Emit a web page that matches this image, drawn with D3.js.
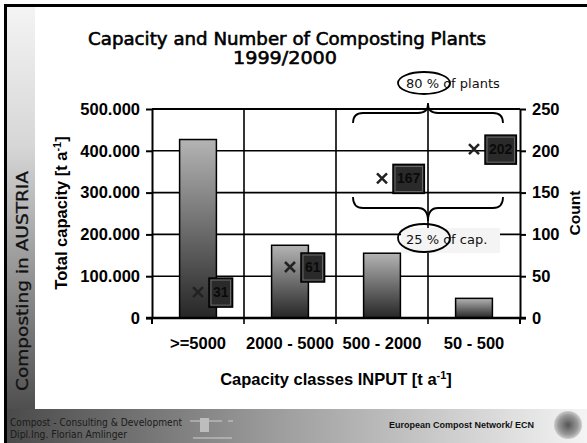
<!DOCTYPE html>
<html lang="en">
<head>
<meta charset="UTF-8">
<title>Composting in Austria</title>
<script src="https://d3js.org/d3.v7.min.js"></script>
<style>
  body { margin: 0; background: #fff; }
  .axis text { font: bold 16.5px "Liberation Sans", Arial, sans-serif; fill: #000; }
  .axis path, .axis line { stroke: #000; stroke-width: 2; }
  .comic { font-family: "DejaVu Sans", sans-serif; }
</style>
</head>
<body>
<div id="chart"></div>
<script>
// data
var categories = [">=5000", "2000 - 5000", "500 - 2000", "50 - 500"];
var capacity = [427000, 174000, 155000, 47000];   // t/a, left axis
var plantCount = [31, 61, 167, 202];              // right axis
var capTicks = [0, 100000, 200000, 300000, 400000, 500000];
var countTicks = [0, 50, 100, 150, 200, 250];

var W = 587, H = 443;
var plot = { left: 152, right: 520, top: 109, bottom: 318 };

var de = d3.formatLocale({ decimal: ",", thousands: ".", grouping: [3], currency: ["", ""] });
var fmt = de.format(",");

var svg = d3.select("#chart").append("svg")
  .attr("width", W).attr("height", H);

var defs = svg.append("defs");
function linGrad(id, x2, y2, stops) {
  var g = defs.append("linearGradient").attr("id", id)
    .attr("x1", 0).attr("y1", 0).attr("x2", x2).attr("y2", y2);
  stops.forEach(function (s) {
    g.append("stop").attr("offset", s[0]).attr("stop-color", s[1]);
  });
}
linGrad("side", 0, 1, [[0, "#f4f4f4"], [0.35, "#d6d6d6"], [1, "#4e4e4e"]]);
linGrad("foot", 1, 0, [[0, "#4a4a4a"], [0.45, "#9a9a9a"], [1, "#f4f4f4"]]);
linGrad("bar", 0, 1, [[0, "#b4b4b4"], [1, "#262626"]]);
var rg = defs.append("radialGradient").attr("id", "logo");
rg.append("stop").attr("offset", 0).attr("stop-color", "#555");
rg.append("stop").attr("offset", 0.7).attr("stop-color", "#999");
rg.append("stop").attr("offset", 1).attr("stop-color", "#ccc");

// slide decoration
svg.append("rect").attr("x", 6).attr("y", 6).attr("width", 29).attr("height", 404).attr("fill", "url(#side)");
svg.append("rect").attr("x", 6).attr("y", 409).attr("width", W - 6).attr("height", H - 409).attr("fill", "url(#foot)");
svg.append("rect").attr("x", 4).attr("y", 4).attr("width", W - 4).attr("height", 3).attr("fill", "#000");
svg.append("rect").attr("x", 4).attr("y", 4).attr("width", 3).attr("height", H - 4).attr("fill", "#000");

svg.append("text").attr("class", "comic")
  .attr("transform", "translate(28,281) rotate(-90)")
  .attr("text-anchor", "middle")
  .attr("textLength", 220).attr("lengthAdjust", "spacingAndGlyphs")
  .style("font-size", "16px").attr("fill", "#111").attr("stroke", "#111").attr("stroke-width", 0.3)
  .text("Composting in AUSTRIA");

svg.append("text").attr("class", "comic").attr("x", 10).attr("y", 426)
  .attr("textLength", 172).attr("lengthAdjust", "spacingAndGlyphs")
  .style("font-size", "10px").attr("fill", "#1a1a1a")
  .text("Compost - Consulting & Development");
svg.append("text").attr("class", "comic").attr("x", 10).attr("y", 438)
  .attr("textLength", 117).attr("lengthAdjust", "spacingAndGlyphs")
  .style("font-size", "10px").attr("fill", "#1a1a1a")
  .text("Dipl.Ing. Florian Amlinger");
// little figure logo
var fig = svg.append("g").attr("fill", "#cfcfcf").attr("stroke", "#cfcfcf");
fig.append("line").attr("x1", 190).attr("y1", 421).attr("x2", 222).attr("y2", 421).attr("stroke-width", 1);
fig.append("rect").attr("x", 200).attr("y", 418).attr("width", 9).attr("height", 14).attr("stroke", "none").attr("fill", "#bdbdbd");
fig.append("line").attr("x1", 228).attr("y1", 421).attr("x2", 233).attr("y2", 421).attr("stroke-width", 1);
fig.append("line").attr("x1", 193).attr("y1", 438).attr("x2", 232).attr("y2", 438).attr("stroke-width", 1);

svg.append("text").attr("x", 534).attr("y", 428).attr("text-anchor", "end")
  .style("font", "bold 9px 'Liberation Sans', Arial, sans-serif").attr("fill", "#111")
  .text("European Compost Network/ ECN");
svg.append("circle").attr("cx", 568).attr("cy", 425).attr("r", 14).attr("fill", "url(#logo)");

// title
svg.append("text").attr("class", "comic").attr("x", 287).attr("y", 45)
  .attr("text-anchor", "middle").attr("textLength", 398).attr("lengthAdjust", "spacingAndGlyphs")
  .style("font-size", "18px").attr("fill", "#000").attr("stroke", "#000").attr("stroke-width", 0.6)
  .text("Capacity and Number of Composting Plants");
svg.append("text").attr("class", "comic").attr("x", 285).attr("y", 64)
  .attr("text-anchor", "middle").attr("textLength", 104).attr("lengthAdjust", "spacingAndGlyphs")
  .style("font-size", "18px").attr("fill", "#000").attr("stroke", "#000").attr("stroke-width", 0.6)
  .text("1999/2000");

// scales
var x = d3.scaleBand().domain(categories).range([plot.left, plot.right]);
var yL = d3.scaleLinear().domain([0, 500000]).range([plot.bottom, plot.top]);
var yR = d3.scaleLinear().domain([0, 250]).range([plot.bottom, plot.top]);

// grid
svg.append("g").selectAll("line").data(capTicks).join("line")
  .attr("x1", plot.left).attr("x2", plot.right)
  .attr("y1", function (d) { return yL(d); }).attr("y2", function (d) { return yL(d); })
  .attr("stroke", "#000").attr("stroke-width", 1.6);
svg.append("g").selectAll("line").data(categories.slice(1)).join("line")
  .attr("x1", function (d) { return x(d); }).attr("x2", function (d) { return x(d); })
  .attr("y1", plot.top).attr("y2", plot.bottom + 6)
  .attr("stroke", "#000").attr("stroke-width", 1.6);

// bars
var bw = x.bandwidth() * 0.4;
svg.append("g").selectAll("rect").data(capacity).join("rect")
  .attr("x", function (d, i) { return x(categories[i]) + (x.bandwidth() - bw) / 2; })
  .attr("y", function (d) { return yL(d); })
  .attr("width", bw)
  .attr("height", function (d) { return yL(0) - yL(d); })
  .attr("fill", "url(#bar)").attr("stroke", "#000").attr("stroke-width", 1.5);

// axes
svg.append("g").attr("class", "axis")
  .attr("transform", "translate(" + plot.left + ",0)")
  .call(d3.axisLeft(yL).tickValues(capTicks).tickFormat(function (d) { return d === 0 ? "0" : fmt(d); })
    .tickSize(6).tickSizeOuter(0).tickPadding(6));
svg.append("g").attr("class", "axis")
  .attr("transform", "translate(" + plot.right + ",0)")
  .call(d3.axisRight(yR).tickValues(countTicks).tickSize(6).tickSizeOuter(0).tickPadding(6));
svg.append("g").attr("class", "axis")
  .attr("transform", "translate(0," + plot.bottom + ")")
  .call(d3.axisBottom(x).tickSize(0).tickPadding(19).tickSizeOuter(0))
  .call(function (g) { g.select(".domain").remove(); });
svg.append("line").attr("x1", plot.left).attr("x2", plot.right)
  .attr("y1", plot.top).attr("y2", plot.top).attr("stroke", "#000").attr("stroke-width", 2);
svg.append("line").attr("x1", plot.left - 6).attr("x2", plot.right + 6)
  .attr("y1", plot.bottom).attr("y2", plot.bottom).attr("stroke", "#000").attr("stroke-width", 2.5);
svg.append("g").selectAll("line").data([plot.left, plot.right]).join("line")
  .attr("x1", function (d) { return d; }).attr("x2", function (d) { return d; })
  .attr("y1", plot.bottom).attr("y2", plot.bottom + 6).attr("stroke", "#000").attr("stroke-width", 2);

// axis titles
var at = "bold 16.5px 'Liberation Sans', Arial, sans-serif";
var t1 = svg.append("text").attr("transform", "translate(67,213) rotate(-90)")
  .attr("text-anchor", "middle").style("font", at).text("Total capacity [t a");
t1.append("tspan").attr("baseline-shift", "super").style("font-size", "11px").text("-1");
t1.append("tspan").text("]");
svg.append("text").attr("transform", "translate(580,213) rotate(-90)")
  .attr("text-anchor", "middle").style("font", "bold 15.5px 'Liberation Sans', Arial, sans-serif").text("Count");
var t3 = svg.append("text").attr("x", 336).attr("y", 385)
  .attr("text-anchor", "middle").style("font", at).text("Capacity classes INPUT [t a");
t3.append("tspan").attr("baseline-shift", "super").style("font-size", "11px").text("-1");
t3.append("tspan").text("]");

// count markers and labels
var mid = function (i) { return x(categories[i]) + x.bandwidth() / 2; };
var pts = svg.append("g").selectAll("g").data(plantCount).join("g")
  .attr("transform", function (d, i) { return "translate(" + mid(i) + "," + yR(d) + ")"; });
pts.append("path").attr("d", "M-5,-5L5,5M-5,5L5,-5")
  .attr("stroke", "#222").attr("stroke-width", 2.5);
pts.each(function (d) {
  var g = d3.select(this);
  var txt = g.append("text").attr("x", 15).attr("y", 5)
    .style("font", "bold 14px 'Liberation Sans', Arial, sans-serif").attr("fill", "#0a0a0a").text(d);
  var w = txt.node().getComputedTextLength() + 8;
  g.insert("rect", "text").attr("x", 11).attr("y", -14).attr("width", w).attr("height", 29)
    .attr("fill", "#2a2a2a").attr("stroke", "#000").attr("stroke-width", 1.5);
  g.insert("rect", "text").attr("x", 13).attr("y", -12).attr("width", w - 4).attr("height", 25)
    .attr("fill", "none").attr("stroke", "#777").attr("stroke-width", 0.8);
});

// annotations: braces and ellipses
var bx0 = x(categories[2]) + 17, bx1 = x(categories[3]) + x.bandwidth() - 17, bc = x(categories[3]);
function brace(yEnd, yLine, yTip) {
  return "M" + bx0 + "," + yEnd + "Q" + bx0 + "," + yLine + " " + (bx0 + 10) + "," + yLine +
    "L" + (bc - 10) + "," + yLine + "Q" + bc + "," + yLine + " " + bc + "," + yTip +
    "Q" + bc + "," + yLine + " " + (bc + 10) + "," + yLine +
    "L" + (bx1 - 10) + "," + yLine + "Q" + bx1 + "," + yLine + " " + bx1 + "," + yEnd;
}
var ann = svg.append("g").attr("fill", "none").attr("stroke", "#000").attr("stroke-width", 1.8);
ann.append("line").attr("x1", bc).attr("x2", bc).attr("y1", 103).attr("y2", plot.top);
ann.append("path").attr("d", brace(123, 113, 104));
ann.append("path").attr("d", brace(197, 208, 221));

svg.append("rect").attr("x", 401).attr("y", 228).attr("width", 99).attr("height", 25).attr("fill", "#f4f4f4");
svg.append("text").attr("class", "comic").attr("x", 406).attr("y", 88)
  .style("font-size", "13px").attr("fill", "#111").text("80 % of plants");
svg.append("text").attr("class", "comic").attr("x", 406).attr("y", 244)
  .style("font-size", "13px").attr("fill", "#111").text("25 % of cap.");
svg.append("ellipse").attr("cx", 424).attr("cy", 83).attr("rx", 26).attr("ry", 11)
  .attr("fill", "none").attr("stroke", "#000").attr("stroke-width", 1.8);
svg.append("ellipse").attr("cx", 424).attr("cy", 238).attr("rx", 26).attr("ry", 14)
  .attr("fill", "none").attr("stroke", "#000").attr("stroke-width", 1.8);
</script>
</body>
</html>
